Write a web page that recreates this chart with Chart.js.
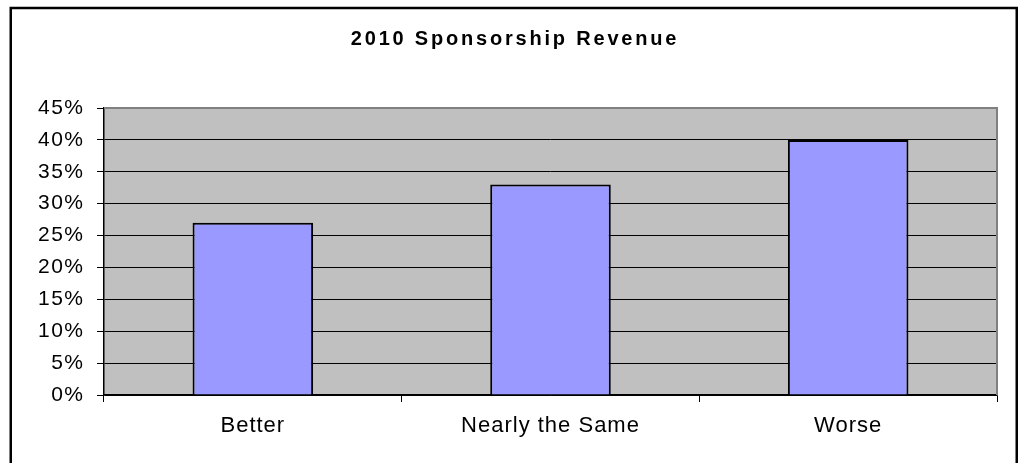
<!DOCTYPE html>
<html>
<head>
<meta charset="utf-8">
<script src="https://cdn.jsdelivr.net/npm/chart.js@4/dist/chart.umd.min.js"></script>
<style>
  html, body { margin: 0; padding: 0; background: #ffffff; }
  #wrap { width: 1024px; height: 463px; position: relative; }
</style>
</head>
<body>
<div id="wrap"><canvas id="c" width="1024" height="463"></canvas></div>
<script>
const chartTitle = '2010 Sponsorship Revenue';
const categories = ['Better', 'Nearly the Same', 'Worse'];
const seriesValues = [0.27, 0.33, 0.40];
const yTickValues = [0, 0.05, 0.10, 0.15, 0.20, 0.25, 0.30, 0.35, 0.40, 0.45];

const letterSpacingPlugin = {
  id: 'letterSpacing',
  afterLayout(chart) {
    const spacing = { x: '1px', y: '1.5px' };
    Object.keys(chart.scales).forEach(id => {
      const s = chart.scales[id];
      if (!s._wrappedLabels) {
        const orig = s.drawLabels.bind(s);
        s.drawLabels = function(area) {
          const ctx = this.ctx;
          const prev = ctx.letterSpacing;
          ctx.letterSpacing = spacing[id] || '0px';
          orig(area);
          ctx.letterSpacing = prev || '0px';
        };
        s._wrappedLabels = true;
      }
    });
  }
};

const framePlugin = {
  id: 'frame',
  beforeDraw(chart) {
    const ctx = chart.ctx;
    const a = chart.chartArea;
    ctx.save();
    ctx.fillStyle = '#ffffff';
    ctx.fillRect(0, 0, chart.width, chart.height);
    ctx.fillStyle = '#C0C0C0';
    ctx.fillRect(a.left, a.top, a.right - a.left, a.bottom - a.top);
    ctx.restore();
  },
  afterDraw(chart) {
    const ctx = chart.ctx;
    const a = chart.chartArea;
    ctx.save();
    ctx.strokeStyle = '#808080';
    ctx.lineWidth = 2;
    ctx.beginPath();
    ctx.moveTo(a.left, a.top);
    ctx.lineTo(a.right, a.top);
    ctx.lineTo(a.right, a.bottom);
    ctx.stroke();
    ctx.strokeStyle = '#000000';
    ctx.lineWidth = 2.5;
    ctx.beginPath();
    ctx.moveTo(10.75, 470);
    ctx.lineTo(10.75, 8);
    ctx.lineTo(1016.75, 8);
    ctx.lineTo(1016.75, 470);
    ctx.stroke();
    ctx.fillStyle = '#000000';
    ctx.font = 'bold 20px "Liberation Sans", Arial, sans-serif';
    ctx.letterSpacing = '2.8px';
    ctx.textAlign = 'center';
    ctx.textBaseline = 'middle';
    ctx.fillText(chartTitle, 515, 39);
    ctx.restore();
  }
};

new Chart(document.getElementById('c'), {
  type: 'bar',
  data: {
    labels: categories,
    datasets: [{
      data: seriesValues,
      backgroundColor: '#9999FF',
      borderColor: '#000000',
      borderWidth: 2,
      borderSkipped: 'bottom',
      categoryPercentage: 1.0,
      barPercentage: 0.405
    }]
  },
  options: {
    responsive: false,
    animation: false,
    devicePixelRatio: 1,
    layout: { padding: { left: 0, right: 27, top: 108, bottom: 0 } },
    plugins: {
      legend: { display: false },
      title: { display: false },
      tooltip: { enabled: false }
    },
    scales: {
      x: {
        afterFit(scale) { scale.height = 68; },
        grid: {
          offset: true,
          drawOnChartArea: false,
          drawTicks: true,
          tickLength: 7,
          color: '#000000',
          lineWidth: 1
        },
        border: { display: true, color: '#000000', width: 1.5 },
        ticks: {
          color: '#000000',
          padding: 11,
          font: { family: '"Liberation Sans", Arial, sans-serif', size: 22 }
        }
      },
      y: {
        min: 0,
        max: 0.45,
        afterFit(scale) { scale.width = 104; },
        afterBuildTicks(scale) { scale.ticks = yTickValues.map(v => ({ value: v })); },
        grid: {
          drawTicks: true,
          tickLength: 7,
          color: '#000000',
          lineWidth: 1
        },
        border: { display: true, color: '#000000', width: 1.5 },
        ticks: {
          color: '#000000',
          padding: 12.5,
          font: { family: '"Liberation Sans", Arial, sans-serif', size: 21 },
          callback: (v) => Math.round(v * 100) + '%'
        }
      }
    }
  },
  plugins: [letterSpacingPlugin, framePlugin]
});
</script>
</body>
</html>
